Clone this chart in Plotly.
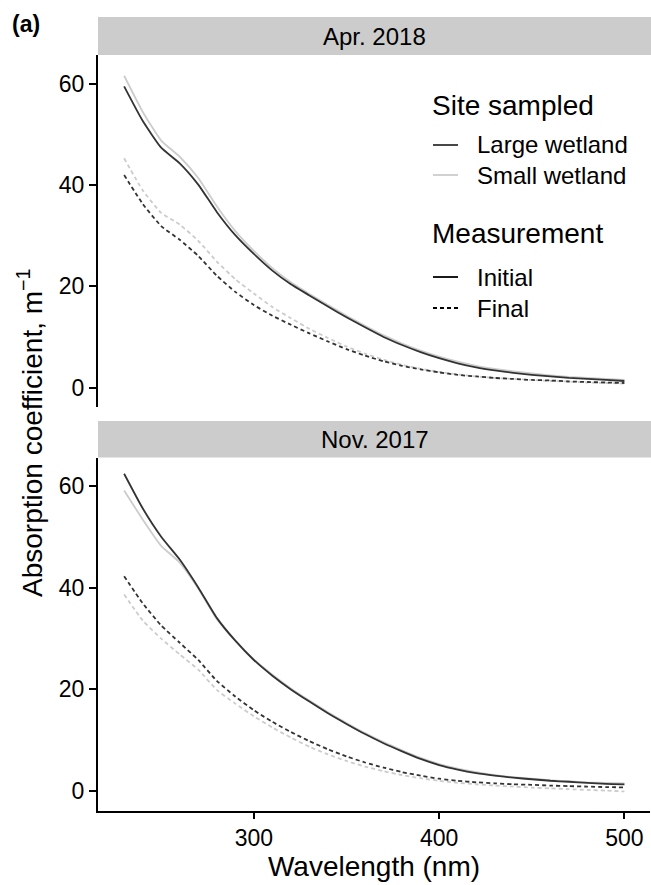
import plotly.graph_objects as go

# ---------------- data ----------------
wavelength = [230, 240, 250, 260, 270, 280, 290, 300, 310, 320, 330, 340, 350, 360,
              370, 380, 390, 400, 410, 420, 430, 440, 450, 460, 470, 480, 490, 500]

apr_large_initial = [59.5, 52.7, 47.4, 44.3, 40.1, 34.7, 30.1, 26.4, 23.1, 20.4, 18.2, 16.0,
                     13.9, 11.9, 10.0, 8.4, 7.0, 5.8, 4.8, 4.0, 3.4, 2.9, 2.5, 2.2, 1.9, 1.7, 1.5, 1.3]
apr_small_initial = [61.6, 54.5, 48.8, 45.6, 41.4, 35.8, 30.9, 27.0, 23.6, 20.8, 18.5, 16.3,
                     14.2, 12.2, 10.3, 8.7, 7.3, 6.1, 5.1, 4.3, 3.7, 3.2, 2.8, 2.4, 2.1, 1.9, 1.7, 1.5]
apr_large_final = [42.0, 36.3, 31.9, 29.2, 26.0, 22.1, 18.9, 16.3, 14.2, 12.4, 10.7, 9.1,
                   7.6, 6.3, 5.2, 4.3, 3.6, 3.0, 2.5, 2.2, 1.9, 1.7, 1.5, 1.4, 1.2, 1.1, 1.0, 0.9]
apr_small_final = [45.3, 39.0, 34.5, 32.2, 29.0, 24.9, 21.4, 18.6, 15.9, 13.7, 11.6, 9.8,
                   8.1, 6.7, 5.5, 4.5, 3.7, 3.1, 2.6, 2.2, 1.9, 1.7, 1.5, 1.3, 1.2, 1.0, 0.9, 0.8]

nov_large_initial = [62.5, 55.7, 50.1, 45.6, 40.1, 34.1, 29.6, 25.8, 22.7, 20.0, 17.6, 15.3,
                     13.2, 11.2, 9.4, 7.8, 6.3, 5.1, 4.2, 3.5, 3.0, 2.6, 2.3, 2.0, 1.8, 1.6, 1.4, 1.3]
nov_small_initial = [59.2, 53.5, 48.3, 45.0, 39.9, 33.9, 29.6, 25.9, 22.9, 20.2, 17.8, 15.5,
                     13.4, 11.4, 9.6, 8.0, 6.5, 5.3, 4.4, 3.7, 3.1, 2.7, 2.4, 2.1, 1.9, 1.7, 1.6, 1.5]
nov_large_final = [42.3, 37.0, 32.6, 29.2, 25.8, 21.7, 18.6, 15.9, 13.6, 11.6, 9.8, 8.2,
                   6.8, 5.6, 4.6, 3.7, 3.0, 2.4, 2.0, 1.7, 1.5, 1.3, 1.2, 1.05, 0.95, 0.85, 0.75, 0.7]
nov_small_final = [38.7, 33.6, 30.0, 26.9, 23.9, 19.9, 17.2, 14.7, 12.5, 10.5, 8.7, 7.2,
                   5.9, 4.8, 3.9, 3.1, 2.5, 2.0, 1.6, 1.3, 1.05, 0.85, 0.65, 0.5, 0.35, 0.2, 0.05, -0.1]

panel_labels = ["Apr. 2018", "Nov. 2017"]
sites = ["Large wetland", "Small wetland"]
measurements = ["Initial", "Final"]
x_ticks = [300, 400, 500]
y_ticks = [0, 20, 40, 60]

# ---------------- styling ----------------
FONT = "Liberation Sans, Arial, Helvetica, sans-serif"
site_color = {"Large wetland": "#333333", "Small wetland": "#cccccc"}
meas_dash = {"Initial": "solid", "Final": "4px,3px"}

W, H = 651, 885


def px_x(p):
    return p / W


def px_y(p):
    return 1 - p / H


series = {
    "Apr. 2018": {("Large wetland", "Initial"): apr_large_initial,
                  ("Small wetland", "Initial"): apr_small_initial,
                  ("Large wetland", "Final"): apr_large_final,
                  ("Small wetland", "Final"): apr_small_final},
    "Nov. 2017": {("Large wetland", "Initial"): nov_large_initial,
                  ("Small wetland", "Initial"): nov_small_initial,
                  ("Large wetland", "Final"): nov_large_final,
                  ("Small wetland", "Final"): nov_small_final},
}
axes_for = {"Apr. 2018": ("x2", "y2"), "Nov. 2017": ("x", "y")}

fig = go.Figure()
for panel in panel_labels:
    xa, ya = axes_for[panel]
    for site in ["Small wetland", "Large wetland"]:
        for meas in measurements:
            fig.add_trace(go.Scatter(
                x=wavelength, y=series[panel][(site, meas)],
                mode="lines", xaxis=xa, yaxis=ya, showlegend=False,
                line=dict(color=site_color[site], width=1.8, dash=meas_dash[meas],
                          shape="spline", smoothing=0.5),
                name=f"{site} - {meas}"))

x_dom = [px_x(98), px_x(650)]
x_rng = [215.9, 513.8]
y_rng = [-3.9, 65.7]
top_dom = [px_y(407.3), px_y(55)]
bot_dom = [px_y(810.7), px_y(457.5)]

common_y = dict(range=y_rng, tickvals=y_ticks, ticks="outside", ticklen=7, tickwidth=1.5,
                tickcolor="black", showline=True, linecolor="black", linewidth=2,
                showgrid=False, zeroline=False, tickfont=dict(family=FONT, size=23, color="black"))

fig.update_layout(
    width=W, height=H, margin=dict(l=0, r=0, t=0, b=0),
    plot_bgcolor="white", paper_bgcolor="white", showlegend=False,
    font=dict(family=FONT, color="black"),
    xaxis=dict(domain=x_dom, range=x_rng, anchor="y", tickvals=x_ticks, ticks="outside",
               ticklen=6, tickwidth=1.5, tickcolor="black", showline=True, linecolor="black",
               linewidth=2, showgrid=False, zeroline=False,
               tickfont=dict(family=FONT, size=23, color="black"),
               title=dict(text="Wavelength (nm)", font=dict(family=FONT, size=28, color="black"),
                          standoff=3)),
    yaxis=dict(domain=bot_dom, anchor="x", **common_y),
    xaxis2=dict(domain=x_dom, range=x_rng, anchor="y2", matches="x", showline=False,
                showticklabels=False, ticks="", showgrid=False, zeroline=False),
    yaxis2=dict(domain=top_dom, anchor="x2", **common_y),
)

shapes = []
annotations = []
# facet strips
for label, (top, bot) in zip(panel_labels, [(17, 55), (421, 457.5)]):
    shapes.append(dict(type="rect", xref="paper", yref="paper", x0=px_x(98), x1=1.0,
                       y0=px_y(bot), y1=px_y(top), fillcolor="#cccccc", line=dict(width=0),
                       layer="below"))
    annotations.append(dict(text=label, xref="paper", yref="paper", x=px_x(374.5),
                            y=px_y((top + bot) / 2), xanchor="center", yanchor="middle",
                            showarrow=False, font=dict(family=FONT, size=24, color="black")))

# y-axis title
annotations.append(dict(text="Absorption coefficient, m<sup>\u22121</sup>", xref="paper",
                        yref="paper", x=px_x(30), y=px_y(433), textangle=-90,
                        xanchor="center", yanchor="middle", showarrow=False,
                        font=dict(family=FONT, size=28, color="black")))
# panel tag
annotations.append(dict(text="<b>(a)</b>", xref="paper", yref="paper", x=px_x(10), y=px_y(24),
                        xanchor="left", yanchor="middle", showarrow=False,
                        font=dict(family=FONT, size=23, color="black")))

# manual legend
legend_title_font = dict(family=FONT, size=28, color="black")
legend_item_font = dict(family=FONT, size=24, color="black")
annotations.append(dict(text="Site sampled", xref="paper", yref="paper", x=px_x(430), y=px_y(106),
                        xanchor="left", yanchor="middle", showarrow=False, font=legend_title_font))
for site, ypix in zip(sites, [145, 175]):
    shapes.append(dict(type="line", xref="paper", yref="paper", x0=px_x(433), x1=px_x(458),
                       y0=px_y(ypix), y1=px_y(ypix),
                       line=dict(color=site_color[site], width=1.8)))
    annotations.append(dict(text=site, xref="paper", yref="paper", x=px_x(475), y=px_y(ypix),
                            xanchor="left", yanchor="middle", showarrow=False,
                            font=legend_item_font))
annotations.append(dict(text="Measurement", xref="paper", yref="paper", x=px_x(430), y=px_y(233),
                        xanchor="left", yanchor="middle", showarrow=False, font=legend_title_font))
for meas, ypix in zip(measurements, [277, 308]):
    shapes.append(dict(type="line", xref="paper", yref="paper", x0=px_x(433), x1=px_x(458),
                       y0=px_y(ypix), y1=px_y(ypix),
                       line=dict(color="black", width=1.8, dash=meas_dash[meas])))
    annotations.append(dict(text=meas, xref="paper", yref="paper", x=px_x(475), y=px_y(ypix),
                            xanchor="left", yanchor="middle", showarrow=False,
                            font=legend_item_font))

fig.update_layout(shapes=shapes, annotations=annotations)
fig.write_html("out.html", config={"displayModeBar": False},
               post_script="document.body.style.margin='0px';document.body.style.overflow='hidden';")
